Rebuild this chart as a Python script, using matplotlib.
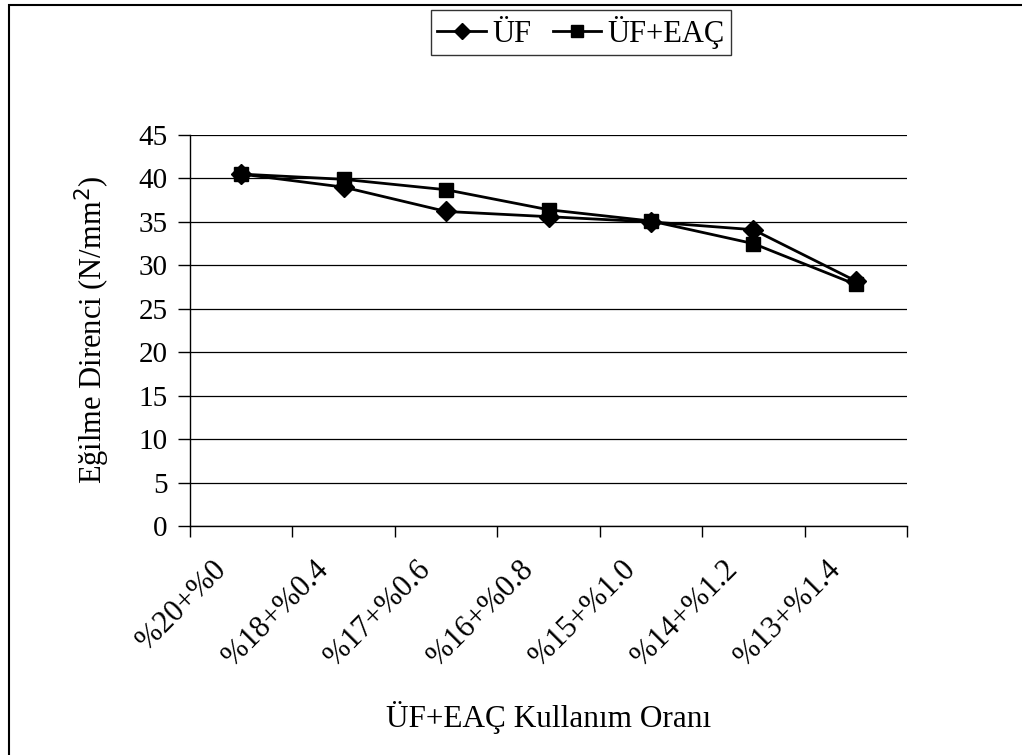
import matplotlib
matplotlib.use("Agg")
import matplotlib.pyplot as plt
from matplotlib.patches import Rectangle
from matplotlib.transforms import ScaledTranslation

plt.rcParams['font.family'] = ['Liberation Serif', 'DejaVu Serif']

categories = ["%20+%0", "%18+%0.4", "%17+%0.6", "%16+%0.8", "%15+%1.0", "%14+%1.2", "%13+%1.4"]
uf = [40.5, 39.0, 36.2, 35.6, 35.0, 34.1, 28.2]
uf_eac = [40.5, 39.9, 38.7, 36.4, 35.1, 32.5, 27.8]
yticks = [0, 5, 10, 15, 20, 25, 30, 35, 40, 45]

W, H = 1022, 755
fig = plt.figure(figsize=(W / 100, H / 100), dpi=100)
ax = fig.add_axes([190 / W, 1 - 526 / H, (907 - 190) / W, (526 - 135) / H])

x = list(range(len(categories)))
ax.plot(x, uf, color='black', lw=2, marker='D', markersize=10, label='ÜF', zorder=3)
ax.plot(x, uf_eac, color='black', lw=2, marker='s', markersize=10, label='ÜF+EAÇ', zorder=3)

ax.set_xlim(-0.5, len(categories) - 0.5)
ax.set_ylim(0, 45)
ax.set_yticks(yticks)
ax.set_yticklabels([str(v) for v in yticks], fontsize=21)
ax.yaxis.grid(True, color='black', lw=0.9)
ax.set_axisbelow(True)

ax.set_xticks([i - 0.5 for i in range(len(categories) + 1)])
ax.set_xticklabels([])
ax.set_xticks(x, minor=True)
ax.set_xticklabels(categories, minor=True, rotation=45, ha='right', va='top',
                   rotation_mode='anchor', fontsize=22)
ax.tick_params(axis='x', which='minor', length=0, pad=21)
ax.tick_params(axis='x', which='major', length=8, direction='out', width=1)
ax.tick_params(axis='y', length=9, direction='out', width=1, pad=7)
off = ScaledTranslation(-30 / 100, 0, fig.dpi_scale_trans)
for lbl in ax.get_xticklabels(minor=True):
    lbl.set_transform(lbl.get_transform() + off)

for s in ['top', 'right']:
    ax.spines[s].set_visible(False)
ax.spines['left'].set_linewidth(1)
ax.spines['bottom'].set_linewidth(1)

fig.text(92 / W, 1 - 330 / H, 'Eğilme Direnci (N/mm$^2$)', fontsize=22,
         rotation=90, ha='center', va='center')
fig.text(549 / W, 1 - 718 / H, 'ÜF+EAÇ Kullanım Oranı', fontsize=22.5,
         ha='center', va='center')

leg = ax.legend(loc='upper center', bbox_to_anchor=(581 / W, 1 - 10 / H),
                bbox_transform=fig.transFigure, ncol=2, fontsize=22,
                frameon=True, fancybox=False, edgecolor='black',
                handlelength=1.6, handletextpad=0.2, columnspacing=0.7,
                borderpad=0.2, borderaxespad=0, markerscale=0.8)
leg.get_frame().set_linewidth(1)

fig.patches.append(Rectangle((9 / W, -0.1), 1.2, 1 - 5 / H + 0.1,
                             transform=fig.transFigure, fill=False,
                             edgecolor='black', lw=1.5))

fig.savefig('out.png', dpi=100)
